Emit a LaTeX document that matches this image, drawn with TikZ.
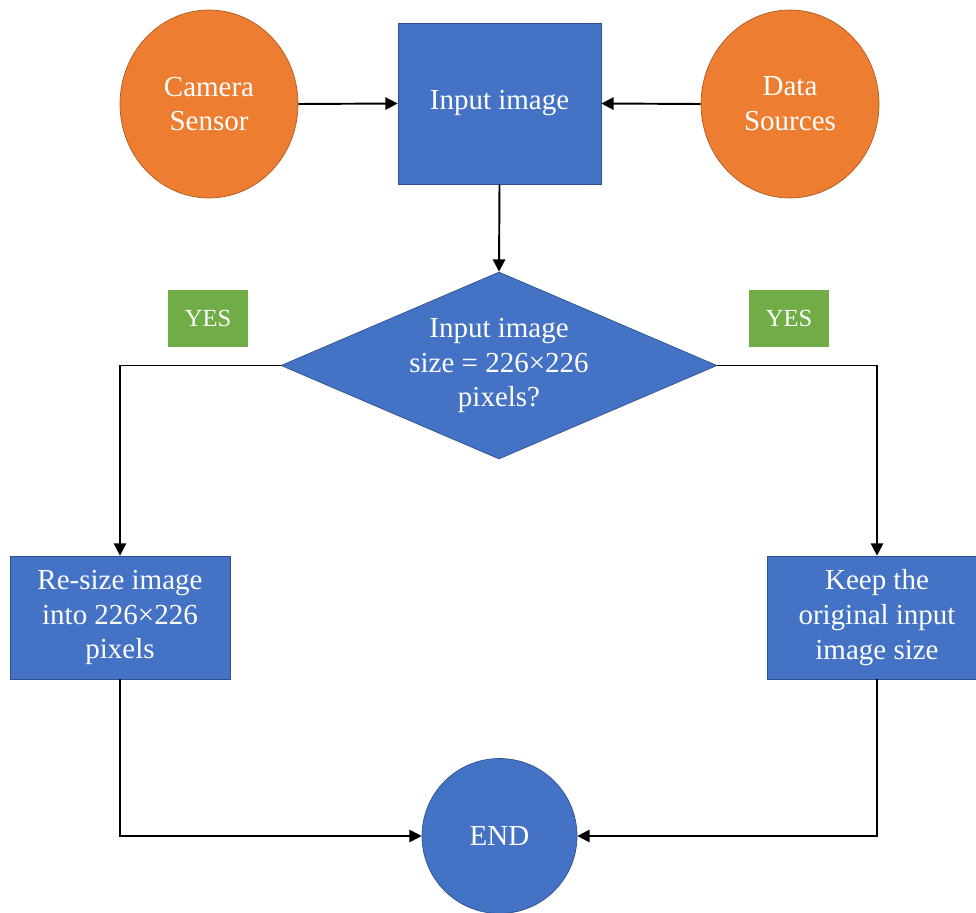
\documentclass[tikz,border=0pt]{standalone}
\usepackage{fontspec}
\setmainfont{Liberation Serif}
\usetikzlibrary{arrows.meta,shapes.geometric}

\definecolor{boxblue}{HTML}{4472C4}
\definecolor{boxblueedge}{HTML}{2F528F}
\definecolor{srcorange}{HTML}{ED7D31}
\definecolor{srcorangeedge}{HTML}{AE5A21}
\definecolor{yesgreen}{HTML}{70AD47}

\tikzset{
  label text/.style={text=white, align=center, font=\fontsize{16.5}{19.8}\selectfont},
  bluebox/.style={label text, rectangle, fill=boxblue, draw=boxblueedge, line width=0.4pt, inner sep=0pt},
  source/.style={label text, ellipse, fill=srcorange, draw=srcorangeedge, line width=0.4pt, inner sep=0pt,
                 minimum width=3.56cm, minimum height=3.76cm},
  decision/.style={label text, diamond, shape aspect=2.33, fill=boxblue, draw=boxblueedge, line width=0.4pt,
                   inner sep=0pt, minimum width=8.72cm, minimum height=3.74cm},
  endpoint/.style={label text, circle, fill=boxblue, draw=boxblueedge, line width=0.4pt, inner sep=0pt,
                   minimum size=3.1cm},
  yesbox/.style={rectangle, fill=yesgreen, text=white, inner sep=0pt,
                 minimum width=1.6cm, minimum height=1.14cm, font=\fontsize{14}{16}\selectfont},
  flow/.style={line width=1.1pt, -{Triangle[length=7pt,width=7pt]}}
}

\begin{document}
\begin{tikzpicture}[x=0.02cm, y=-0.02cm]
  \useasboundingbox (0,0) rectangle (976,912);

  % sources and input
  \node[source] (cam) at (209,104) {Camera\\Sensor};
  \node[source] (data) at (790,104) {Data\\Sources};
  \node[bluebox, minimum width=4.06cm, minimum height=3.22cm] (input) at (499.5,103.5) {Input image};

  % size check
  \node[decision] (check) at (499,365.5) {Input image\\size = 226×226\\pixels?};

  % branch labels
  \node[yesbox] (yesL) at (208,318.5) {YES};
  \node[yesbox] (yesR) at (789,318.5) {YES};

  % outcomes
  \node[bluebox, minimum width=4.4cm, minimum height=2.46cm] (resize) at (120,617.5) {Re-size image\\into 226×226\\pixels};
  \node[bluebox, minimum width=4.4cm, minimum height=2.46cm] (keep) at (877,617.5) {Keep the\\original input\\image size};

  \node[endpoint] (end) at (499.5,836) {END};

  % connectors
  \draw[flow] (cam.east) -- (input.west);
  \draw[flow] (data.west) -- (input.east);
  \draw[flow] (input.south) -- (check.north);
  \draw[flow] (check.west) -| (resize.north);
  \draw[flow] (check.east) -| (keep.north);
  \draw[flow] (resize.south) |- (end.west);
  \draw[flow] (keep.south) |- (end.east);
\end{tikzpicture}
\end{document}
